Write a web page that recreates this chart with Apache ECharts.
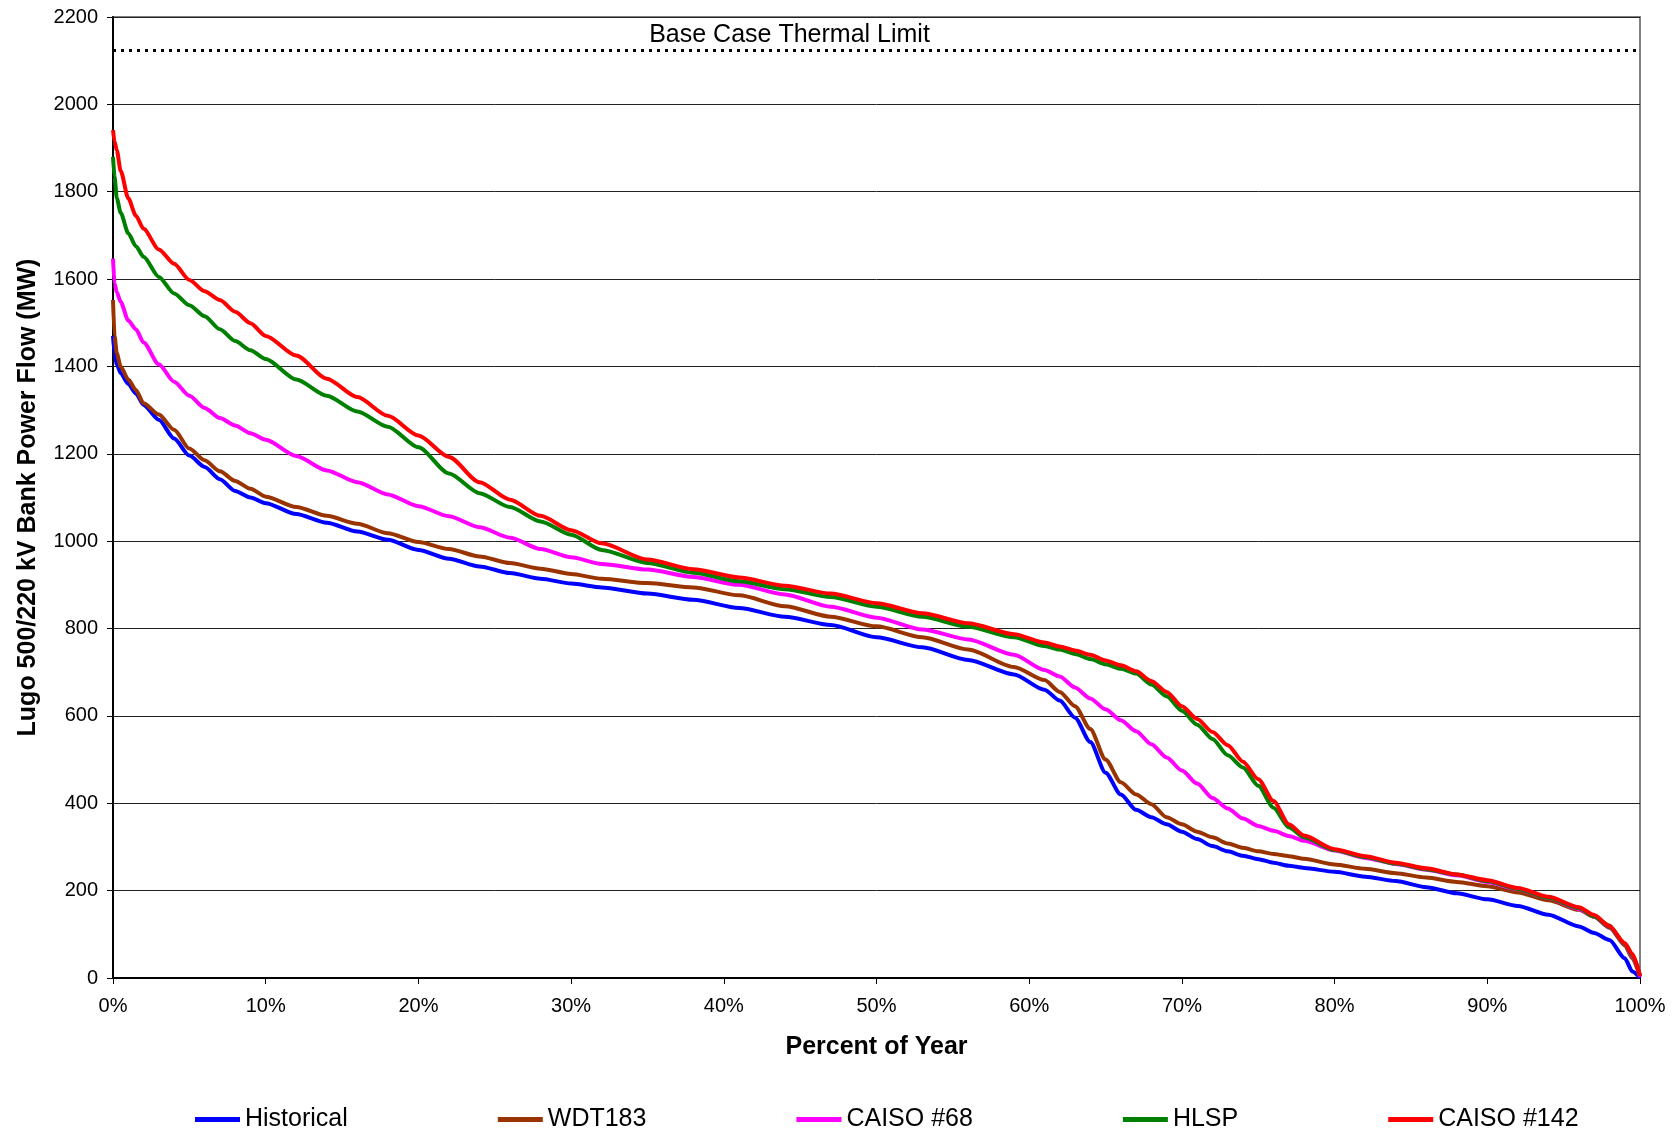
<!DOCTYPE html>
<html>
<head>
<meta charset="utf-8">
<script src="https://cdn.jsdelivr.net/npm/echarts@6/dist/echarts.min.js"></script>
<style>
html,body{margin:0;padding:0;background:#fff;}
#chart{width:1679px;height:1133px;}
</style>
</head>
<body>
<div id="chart"></div>
<script>
const seriesNames = ['Historical', 'WDT183', 'CAISO #68', 'HLSP', 'CAISO #142'];
const seriesColors = ['#0000FF', '#993300', '#FF00FF', '#008000', '#FF0000'];
const thermalLimit = 2125;
const thermalLabel = 'Base Case Thermal Limit';
const xTickValues = [0, 10, 20, 30, 40, 50, 60, 70, 80, 90, 100];
const yTickValues = [0, 200, 400, 600, 800, 1000, 1200, 1400, 1600, 1800, 2000, 2200];

const percentOfYear = [0, 0.1, 0.25, 0.5, 1, 1.5, 2, 3, 4, 5,
  6, 7, 8, 9, 10, 12, 14, 16, 18, 20,
  22, 24, 26, 28, 30, 32, 35, 38, 41, 44,
  47, 50, 53, 56, 59, 61, 62, 63, 64, 65,
  66, 67, 68, 69, 70, 71, 72, 73, 74, 75,
  76, 77, 78, 80, 82, 84, 86, 88, 90, 92,
  94, 96, 97, 98, 99, 99.5, 100];

const historical = [1470, 1430, 1405, 1385, 1360, 1338, 1312, 1278, 1235, 1196,
  1170, 1142, 1115, 1100, 1087, 1062, 1042, 1022, 1003, 980,
  960, 942, 927, 914, 903, 894, 880, 866, 847, 827,
  808, 780, 757, 728, 695, 660, 635, 596, 540, 470,
  420, 385, 368, 352, 335, 318, 302, 290, 280, 272,
  264, 257, 252, 243, 232, 222, 208, 194, 180, 165,
  145, 118, 103, 87, 45, 15, 0];

const wdt183 = [1552, 1470, 1430, 1400, 1370, 1346, 1316, 1290, 1255, 1212,
  1185, 1160, 1138, 1120, 1102, 1078, 1058, 1040, 1018, 998,
  982, 965, 950, 937, 925, 914, 904, 894, 876, 851,
  827, 805, 780, 752, 712, 682, 655, 622, 570, 500,
  448, 420, 398, 368, 352, 335, 322, 308, 298, 290,
  284, 279, 273, 260, 250, 240, 230, 220, 210, 196,
  178, 156, 140, 120, 75, 45, 3];

const caiso68 = [1647, 1590, 1570, 1548, 1505, 1485, 1455, 1405, 1365, 1333,
  1305, 1282, 1265, 1247, 1232, 1195, 1162, 1135, 1107, 1080,
  1057, 1032, 1008, 982, 963, 948, 935, 918, 900, 878,
  850, 825, 798, 775, 740, 705, 690, 665, 640, 615,
  590, 565, 535, 505, 475, 445, 412, 388, 365, 348,
  337, 325, 314, 292, 275, 261, 248, 235, 220, 203,
  183, 158, 140, 115, 77, 50, 3];

const hlsp = [1880, 1835, 1785, 1752, 1705, 1675, 1651, 1605, 1567, 1540,
  1515, 1485, 1458, 1437, 1417, 1370, 1333, 1297, 1262, 1215,
  1155, 1110, 1078, 1045, 1015, 980, 950, 928, 908, 890,
  872, 850, 827, 804, 780, 760, 752, 742, 730, 718,
  708, 697, 672, 645, 612, 580, 547, 510, 482, 440,
  390, 345, 322, 293, 277, 262, 249, 237, 222, 204,
  184, 160, 141, 116, 78, 52, 5];

const caiso142 = [1941, 1915, 1895, 1848, 1785, 1745, 1715, 1668, 1635, 1598,
  1572, 1552, 1525, 1499, 1470, 1425, 1372, 1330, 1287, 1242,
  1193, 1135, 1095, 1058, 1025, 995, 958, 936, 917, 898,
  880, 858, 835, 812, 787, 768, 759, 750, 740, 727,
  716, 702, 680, 655, 622, 593, 563, 533, 495, 455,
  405, 352, 326, 295, 279, 264, 251, 237, 224, 206,
  186, 162, 144, 118, 80, 55, 5];

const seriesValues = [historical, wdt183, caiso68, hlsp, caiso142];

const FONT = "'Liberation Sans', Arial, sans-serif";
const chart = echarts.init(document.getElementById('chart'), null, {renderer: 'canvas'});

const lineSeries = seriesNames.map((name, i) => ({
  name: name,
  type: 'line',
  showSymbol: false,
  symbol: 'none',
  smooth: 0.25,
  smoothMonotone: 'x',
  lineStyle: {color: seriesColors[i], width: 4},
  itemStyle: {color: seriesColors[i]},
  data: percentOfYear.map((p, k) => [p, seriesValues[i][k]]),
  z: 3 + i
}));

lineSeries.push({
  name: 'thermal',
  type: 'line',
  data: [],
  markLine: {
    silent: true,
    symbol: ['none', 'none'],
    animation: false,
    lineStyle: {color: '#000', type: [3, 5], width: 3},
    label: {
      show: true,
      formatter: thermalLabel,
      position: 'insideMiddleTop',
      offset: [-87, 0],
      distance: 2,
      color: '#000',
      fontFamily: FONT,
      fontSize: 25
    },
    data: [{yAxis: thermalLimit}]
  }
});

chart.setOption({
  animation: false,
  backgroundColor: '#fff',
  textStyle: {fontFamily: FONT},
  grid: {
    left: 113, right: 39, top: 17, bottom: 155,
    show: true, borderColor: '#808080', borderWidth: 2, backgroundColor: '#fff'
  },
  legend: {
    data: seriesNames,
    left: 190,
    top: 1102,
    icon: 'rect',
    itemWidth: 45,
    itemHeight: 5,
    itemGap: 150,
    textStyle: {fontFamily: FONT, fontSize: 25, color: '#000'}
  },
  xAxis: {
    type: 'value',
    min: xTickValues[0],
    max: xTickValues[xTickValues.length - 1],
    interval: 10,
    name: 'Percent of Year',
    nameLocation: 'middle',
    nameGap: 57,
    nameTextStyle: {fontFamily: FONT, fontSize: 25, fontWeight: 'bold', color: '#000'},
    axisLine: {show: true, lineStyle: {color: '#000', width: 2}},
    axisTick: {show: true, inside: false, length: 6, lineStyle: {color: '#000', width: 1}},
    axisLabel: {formatter: '{value}%', fontSize: 20, color: '#000', margin: 18, fontFamily: FONT},
    splitLine: {show: false}
  },
  yAxis: {
    type: 'value',
    min: yTickValues[0],
    max: yTickValues[yTickValues.length - 1],
    interval: 200,
    name: 'Lugo 500/220 kV Bank Power Flow (MW)',
    nameLocation: 'middle',
    nameGap: 72,
    nameTextStyle: {fontFamily: FONT, fontSize: 25, fontWeight: 'bold', color: '#000'},
    axisLine: {show: true, lineStyle: {color: '#000', width: 2}},
    axisTick: {show: true, inside: false, length: 6, lineStyle: {color: '#000', width: 1}},
    axisLabel: {formatter: (v) => String(v), fontSize: 20, color: '#000', margin: 15, fontFamily: FONT},
    splitLine: {show: true, lineStyle: {color: '#222', width: 1}}
  },
  series: lineSeries
});
</script>
</body>
</html>
